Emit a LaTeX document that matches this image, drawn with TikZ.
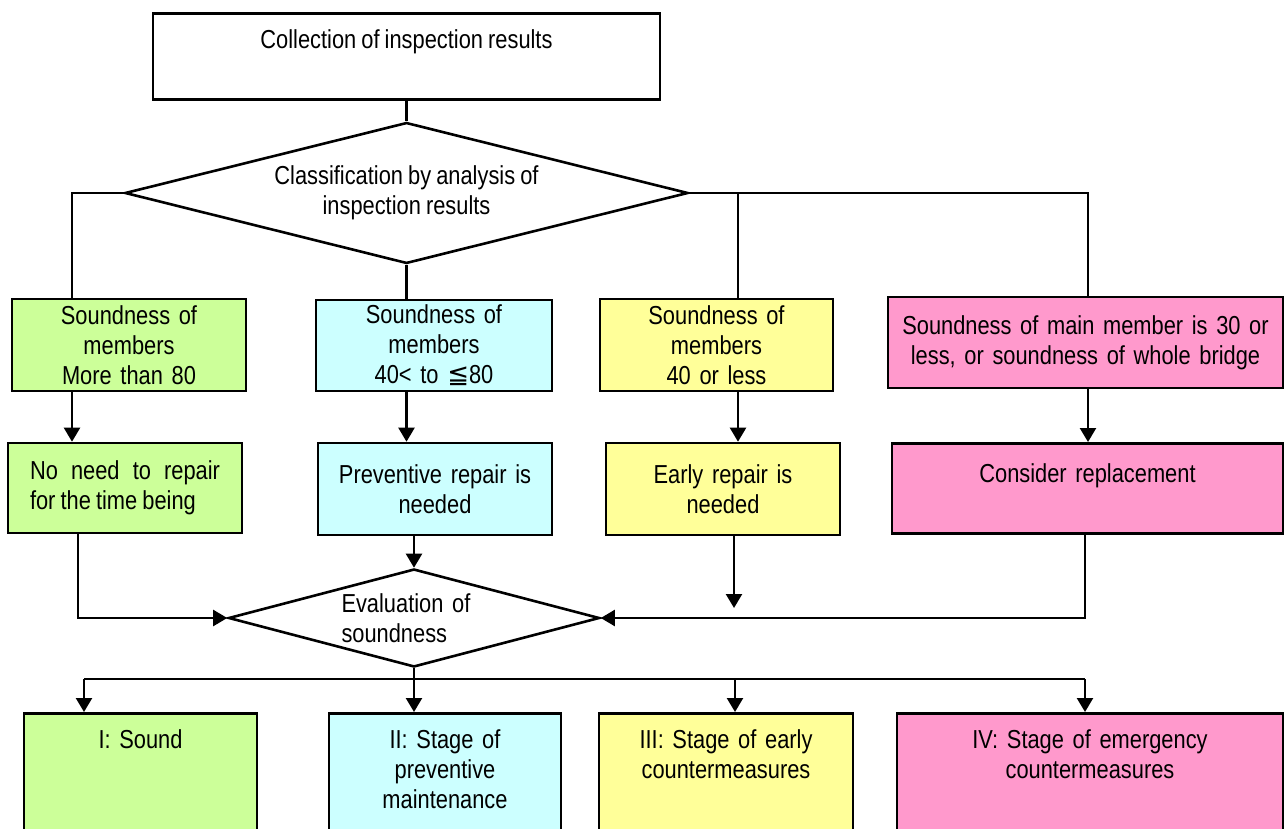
\documentclass[tikz,border=0pt]{standalone}
\usepackage{fontspec}
\setmainfont{Liberation Sans}[FakeStretch=0.84, WordSpace=0.84]
\newfontfamily\leqfont{DejaVu Sans}
\usetikzlibrary {shapes.geometric}
\usetikzlibrary {arrows.meta}
\definecolor{sgreen}{HTML}{CCFF99}
\definecolor{scyan}{HTML}{CCFFFF}
\definecolor{syellow}{HTML}{FFFF99}
\definecolor{spink}{HTML}{FF99CC}

\begin{document}
\begin{tikzpicture}
	[x=1pt, y=-1pt, >={Triangle[length=14pt,width=16pt]},
	font=\fontsize{26}{30}\selectfont,
	box/.style={rectangle,draw,line width=2.6pt,inner sep=0pt,align=center},
	cond/.style={diamond,draw,line width=2.6pt,inner sep=0pt},
	link/.style={line width=2.3pt},
	stage/.style={box,anchor=north,text height=35.5pt,text depth=92.5pt}]
	\useasboundingbox (0,0) rectangle (1285,829);
	\clip (0,0) rectangle (1285,829);
	\node[box,anchor=north,text height=35.5pt,text depth=50.5pt] (collect) at (406.5,12) [minimum width=507pt] {Collection of inspection results};
	\node[cond,align=center] (classify) at (406.5,193) [minimum width=563pt, minimum height=141pt, aspect=4] {Classification by analysis of\\inspection results};
	\node[box,fill=sgreen]  (sound1) at (129,345)    [minimum width=234pt, minimum height=92pt, text width=214pt] {Soundness of\\members\\More than 80};
	\node[box,fill=scyan]   (sound2) at (434,345.5)  [minimum width=236pt, minimum height=91pt, text width=216pt] {Soundness of\\members\\40< to {\leqfont ≦}80};
	\node[box,fill=syellow] (sound3) at (716.5,345)  [minimum width=233pt, minimum height=92pt, text width=213pt] {Soundness of\\members\\40 or less};
	\node[box,fill=spink]   (sound4) at (1085.5,342.5) [minimum width=395pt, minimum height=91pt, text width=375pt] {Soundness of main member is 30 or\\less, or soundness of whole bridge};
	\node[box,fill=sgreen,align=justify] (act1) at (125,488) [minimum width=234pt, minimum height=90pt, text width=190pt] {No need to repair\linebreak for the time being};
	\node[box,fill=scyan]   (act2) at (435,489) [minimum width=234pt, minimum height=92pt, text width=214pt] {Preventive repair is\\needed};
	\node[box,fill=syellow] (act3) at (723,489) [minimum width=234pt, minimum height=92pt, text width=214pt] {Early repair is\\needed};
	\node[box,fill=spink,anchor=north,text height=39.5pt,text depth=50.5pt] (act4) at (1087.5,442) [minimum width=391pt, text width=371pt] {Consider replacement};
	\node[cond,align=left,text width=145pt] (evaluate) at (414,618) [minimum width=371pt, minimum height=98pt, aspect=3.8] {Evaluation of\\soundness};
	\node[stage,fill=sgreen]  (stage1) at (140.5,712) [minimum width=233pt, text width=213pt] {I: Sound};
	\node[stage,fill=scyan]   (stage2) at (445,712)   [minimum width=232pt, text width=212pt] {II: Stage of\\preventive\\maintenance};
	\node[stage,fill=syellow] (stage3) at (726,712)   [minimum width=254pt, text width=234pt] {III: Stage of early\\countermeasures};
	\node[stage,fill=spink]   (stage4) at (1090,712)  [minimum width=386pt, text width=366pt] {IV: Stage of emergency\\countermeasures};
	% bend points of the connectors
	\coordinate (left1)  at (72,193);
	\coordinate (fork1)  at (738,193);
	\coordinate (right1) at (1088,193);
	\coordinate (left2)  at (78,618);
	\coordinate (early)  at (734,608);
	\coordinate (right2) at (1085,618);
	\coordinate (bus1) at (84,679);
	\coordinate (bus2) at (414,679);
	\coordinate (bus3) at (735,679);
	\coordinate (bus4) at (1085,679);
	\draw[link] (collect.south) -- (classify.north);
	\draw[link] (classify.west) -- (left1) -- (left1 |- sound1.north);
	\draw[link] (classify.south) -- (classify.south |- sound2.north);
	\draw[link] (classify.east) -- (right1) -- (right1 |- sound4.north);
	\draw[link] (fork1) -- (fork1 |- sound3.north);
	\draw[link,->] (left1 |- sound1.south) -- (left1 |- act1.north);
	\draw[link,->] (classify.south |- sound2.south) -- (classify.south |- act2.north);
	\draw[link,->] (fork1 |- sound3.south) -- (fork1 |- act3.north);
	\draw[link,->] (right1 |- sound4.south) -- (right1 |- act4.north);
	\draw[link,->] (left2 |- act1.south) -- (left2) -- (evaluate.west);
	\draw[link,->] (evaluate.north |- act2.south) -- (evaluate.north);
	\draw[link,->] (early |- act3.south) -- (early);
	\draw[link,->] (right2 |- act4.south) -- (right2) -- (evaluate.east);
	\draw[link] (evaluate.south) -- (bus2);
	\draw[link] (bus1) -- (bus4);
	\draw[link,->] (bus1) -- (bus1 |- stage1.north);
	\draw[link,->] (bus2) -- (bus2 |- stage2.north);
	\draw[link,->] (bus3) -- (bus3 |- stage3.north);
	\draw[link,->] (bus4) -- (bus4 |- stage4.north);
\end{tikzpicture}
\end{document}
